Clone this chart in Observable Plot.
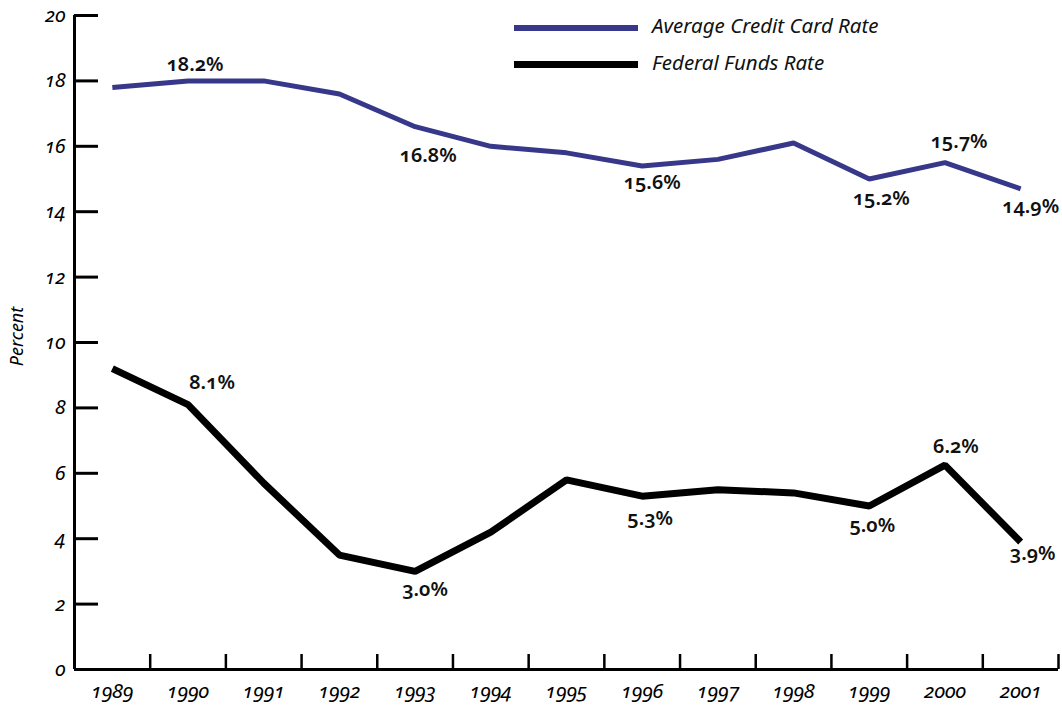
<!DOCTYPE html>
<html>
<head>
<meta charset="utf-8">
<script src="https://cdn.jsdelivr.net/npm/d3@7"></script>
<script src="https://cdn.jsdelivr.net/npm/@observablehq/plot@0.6"></script>
<style>
  html, body { margin: 0; padding: 0; background: #fff; }
  #wrap { position: relative; width: 1062px; height: 707px; font-family: "Noto Sans", sans-serif; font-variant-numeric: oldstyle-nums; font-feature-settings: "onum" 1; }
  .leg { position: absolute; left: 0; top: 0; }
  .leg .sw { position: absolute; left: 514px; width: 124px; }
  .leg .tx { position: absolute; left: 652px; font-style: italic; font-size: 20.5px; line-height: 1; white-space: nowrap; color: #111; }
</style>
</head>
<body>
<div id="wrap"></div>
<script>
// ---- data ----
const years = [1989, 1990, 1991, 1992, 1993, 1994, 1995, 1996, 1997, 1998, 1999, 2000, 2001];
const creditCard = [17.8, 18.0, 18.0, 17.6, 16.6, 16.0, 15.8, 15.4, 15.6, 16.1, 15.0, 15.5, 14.7];
const fedFunds = [9.2, 8.1, 5.7, 3.5, 3.0, 4.2, 5.8, 5.3, 5.5, 5.4, 5.0, 6.25, 3.9];
const seriesNames = ["Average Credit Card Rate", "Federal Funds Rate"];
const yTicks = [0, 2, 4, 6, 8, 10, 12, 14, 16, 18, 20];

const creditLabelYears = [1990, 1993, 1996, 1999, 2000, 2001];
const creditLabelText = ["18.2%", "16.8%", "15.6%", "15.2%", "15.7%", "14.9%"];
const fedLabelYears = [1990, 1993, 1996, 1999, 2000, 2001];
const fedLabelText = ["8.1%", "3.0%", "5.3%", "5.0%", "6.2%", "3.9%"];

// ---- layout (label nudges in pixels) ----
const creditLabelNudge = [[7, -16], [13, 29], [10, 17], [12, 20], [14, -21], [10, 18]];
const fedLabelNudge = [[24, -22], [10, 18], [8, 22], [3, 20], [11, -19], [12, 12]];
const colors = ["#37388a", "#000000"];

const creditRows = years.map((yr, i) => ({year: yr, value: creditCard[i]}));
const fedRows = years.map((yr, i) => ({year: yr, value: fedFunds[i]}));
const labelRows = [
  ...creditLabelYears.map((yr, i) => ({year: yr, value: creditCard[years.indexOf(yr)], text: creditLabelText[i], nudge: creditLabelNudge[i]})),
  ...fedLabelYears.map((yr, i) => ({year: yr, value: fedFunds[years.indexOf(yr)], text: fedLabelText[i], nudge: fedLabelNudge[i]}))
];
const boundaries = years.map(y => y + 0.5);

const W = 1062, H = 707, mL = 74, mR = 4, mT = 15, mB = 38;
const plotW = W - mL - mR, plotH = H - mT - mB;

const chart = Plot.plot({
  width: W, height: H,
  marginLeft: mL, marginRight: mR, marginTop: mT, marginBottom: mB,
  x: {type: "linear", domain: [years[0] - 0.5, years[years.length - 1] + 0.5]},
  y: {domain: [0, 20]},
  style: {fontFamily: "Noto Sans, sans-serif", fontStyle: "italic", fontSize: "18px", color: "#000", background: "#fff", overflow: "visible"},
  marks: [
    Plot.ruleX([years[0] - 0.5], {stroke: "#000", strokeWidth: 3}),
    Plot.ruleY([0], {stroke: "#000", strokeWidth: 3}),
    Plot.tickY(yTicks, {y: d => d, stroke: "#000", strokeWidth: 3, insetRight: plotW - 24}),
    Plot.tickX(boundaries, {x: d => d, stroke: "#000", strokeWidth: 2.5, insetTop: plotH - 15}),
    Plot.axisY({ticks: yTicks, tickSize: 0, tickPadding: 9, label: null, fontSize: 20, fontStyle: "italic", tickFormat: d => String(d)}),
    Plot.axisX({ticks: years, tickSize: 0, tickPadding: 14, label: null, fontSize: 20.5, fontStyle: "italic", tickFormat: d => String(d)}),
    Plot.text(["Percent"], {frameAnchor: "left", textAnchor: "middle", rotate: -90, dx: -57, dy: -6, fontSize: 18, fontStyle: "italic"}),
    Plot.line(fedRows, {x: "year", y: "value", stroke: colors[1], strokeWidth: 7, strokeLinejoin: "miter", strokeLinecap: "butt"}),
    Plot.line(creditRows, {x: "year", y: "value", stroke: colors[0], strokeWidth: 5, strokeLinejoin: "miter", strokeLinecap: "butt"}),
    ...labelRows.map(r => Plot.text([r], {x: "year", y: "value", text: "text", dx: r.nudge[0], dy: r.nudge[1], fontSize: 20, fontWeight: 600, fontStyle: "normal", fill: "#111", lineAnchor: "middle", textAnchor: "middle"}))
  ]
});

const wrap = document.getElementById("wrap");
wrap.appendChild(chart);

// legend
const leg = document.createElement("div");
leg.className = "leg";
seriesNames.forEach((name, i) => {
  const sw = document.createElement("div");
  sw.className = "sw";
  const t = i === 0 ? 6 : 7;
  sw.style.top = ([27.5, 64.3][i] - t / 2) + "px";
  sw.style.height = t + "px";
  sw.style.background = colors[i];
  leg.appendChild(sw);
  const tx = document.createElement("div");
  tx.className = "tx";
  tx.textContent = name;
  tx.style.top = ([27, 63.5][i] - 12) + "px";
  leg.appendChild(tx);
});
wrap.appendChild(leg);
</script>
</body>
</html>
